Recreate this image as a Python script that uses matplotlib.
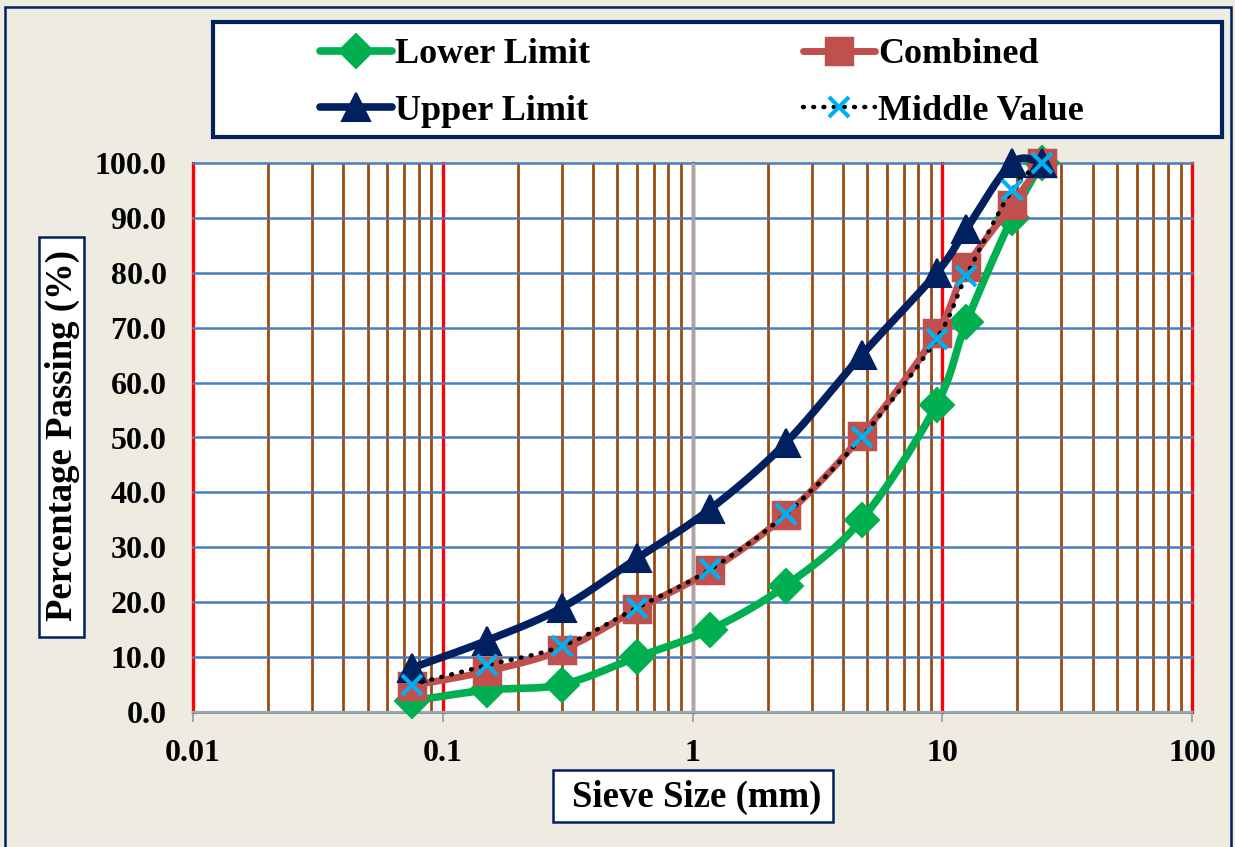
import numpy as np
import matplotlib
matplotlib.use("Agg")
import matplotlib.pyplot as plt
from matplotlib.patches import Rectangle
from matplotlib.lines import Line2D
from matplotlib.ticker import LogLocator, NullFormatter, FixedLocator

# ---------------- data ----------------
sieve_mm = [0.075, 0.15, 0.3, 0.6, 1.18, 2.36, 4.75, 9.5, 12.5, 19, 25]
lower_limit = [2, 4, 5, 10, 15, 23, 35, 56, 71, 90, 100]
upper_limit = [8, 13, 19, 28, 37, 49, 65, 80, 88, 100, 100]
combined = [4.8, 7.4, 11.3, 18.7, 25.8, 35.9, 50.3, 69, 81, 92.4, 100]
middle_value = [5, 8.5, 12, 19, 26, 36, 50, 68, 79.5, 95, 100]

y_ticks = [0, 10, 20, 30, 40, 50, 60, 70, 80, 90, 100]
y_tick_labels = ["0.0", "10.0", "20.0", "30.0", "40.0", "50.0", "60.0",
                 "70.0", "80.0", "90.0", "100.0"]
x_ticks = [0.01, 0.1, 1, 10, 100]
x_tick_labels = ["0.01", "0.1", "1", "10", "100"]

x_label = "Sieve Size (mm)"
y_label = "Percentage Passing (%)"
series_names = ["Lower Limit", "Combined", "Upper Limit", "Middle Value"]

# ---------------- style ----------------
plt.rcParams['font.family'] = ['Liberation Serif', 'DejaVu Serif']
plt.rcParams['font.weight'] = 'bold'

W_PX, H_PX = 1235, 847
DPI = 100
BG = '#EEECE1'
NAVY = '#002060'
GREEN = '#00B050'
RED = '#C0504D'
CYAN = '#00B0F0'
GRID_BLUE = '#4A7EBB'
BROWN = '#9C4A0E'
AXIS_GRAY = '#A6A6A6'

fig = plt.figure(figsize=(W_PX / DPI, H_PX / DPI), dpi=DPI, facecolor=BG)


def fx(px):
    return px / W_PX


def fy(py):
    return 1 - py / H_PX


# outer chart border
fig.patches.append(Rectangle((fx(5), fy(852)), fx(1231) - fx(5), fy(7) - fy(852),
                             transform=fig.transFigure, fill=False,
                             edgecolor=NAVY, linewidth=1.8, zorder=0))

# plot area
ax_l, ax_r, ax_t, ax_b = 193, 1192, 163, 712
ax = fig.add_axes([fx(ax_l), fy(ax_b), fx(ax_r) - fx(ax_l), fy(ax_t) - fy(ax_b)])
ax.set_facecolor('white')
ax.set_xscale('log')
ax.set_xlim(x_ticks[0], x_ticks[-1])
ax.set_ylim(y_ticks[0], y_ticks[-1])

ax.xaxis.set_major_locator(FixedLocator(x_ticks))
ax.set_xticklabels(x_tick_labels)
ax.xaxis.set_minor_locator(LogLocator(base=10, subs=np.arange(2, 10)))
ax.xaxis.set_minor_formatter(NullFormatter())
ax.set_yticks(y_ticks)
ax.set_yticklabels(y_tick_labels)

ax.set_axisbelow(True)
ax.grid(which='minor', axis='x', color=BROWN, linewidth=2.0)
ax.grid(which='major', axis='x', color='#FF0000', linewidth=2.4)
ax.grid(which='major', axis='y', color=GRID_BLUE, linewidth=1.8)
for gl in ax.xaxis.get_gridlines() + ax.yaxis.get_gridlines():
    gl.set_clip_on(False)
# vertical axis crossing at x = 1
ax.axvline(x_ticks[2], color=AXIS_GRAY, linewidth=2.4, zorder=1.5)

for s in ['top', 'right', 'left']:
    ax.spines[s].set_visible(False)
ax.spines['bottom'].set_color(AXIS_GRAY)
ax.spines['bottom'].set_linewidth(1.6)

ax.tick_params(axis='y', length=0, pad=19, labelsize=23)
ax.tick_params(axis='x', which='major', length=7.2, width=1.4, color=AXIS_GRAY,
               pad=12, labelsize=23)
ax.tick_params(axis='x', which='minor', length=0)


# smooth curve (Excel-like Catmull-Rom / Bezier in display proportions)
def smooth_curve(xs, ys, n=30):
    xs = np.asarray(xs, float)
    ys = np.asarray(ys, float)
    w = ax_r - ax_l
    h = ax_b - ax_t
    u = (np.log10(xs) - np.log10(x_ticks[0])) / 4.0 * w
    v = ys / 100.0 * h
    P = np.column_stack([u, v])
    Pext = np.vstack([P[0], P, P[-1]])
    out = [P[0]]
    t = np.linspace(0, 1, n)[1:]
    for i in range(len(P) - 1):
        p0, p1, p2, p3 = Pext[i], Pext[i + 1], Pext[i + 2], Pext[i + 3]
        c1 = p1 + (p2 - p0) / 6.0
        c2 = p2 - (p3 - p1) / 6.0
        seg = ((1 - t) ** 3)[:, None] * p1 + (3 * (1 - t) ** 2 * t)[:, None] * c1 \
            + (3 * (1 - t) * t ** 2)[:, None] * c2 + (t ** 3)[:, None] * p2
        out.extend(seg)
    out = np.array(out)
    xx = 10 ** (out[:, 0] / w * 4.0 + np.log10(x_ticks[0]))
    yy = out[:, 1] / h * 100.0
    return xx, yy


series = [
    dict(name=series_names[0], y=lower_limit, color=GREEN, lw=5.5, ls='-',
         marker='D', ms=17, mfc=GREEN, mec=GREEN, mew=1.5),
    dict(name=series_names[1], y=combined, color=RED, lw=5.0, ls='-',
         marker='s', ms=19, mfc=RED, mec=RED, mew=2.5),
    dict(name=series_names[2], y=upper_limit, color=NAVY, lw=5.5, ls='-',
         marker='^', ms=20, mfc=NAVY, mec=NAVY, mew=1.5),
    dict(name=series_names[3], y=middle_value, color='black', lw=3.2,
         ls=(0, (0.2, 2.1)), marker='x', ms=14, mfc=CYAN, mec=CYAN, mew=3.0),
]

handles = {}
z = 3
for s in series:
    xx, yy = smooth_curve(sieve_mm, s['y'])
    ln, = ax.plot(xx, yy, color=s['color'], linewidth=s['lw'], linestyle=s['ls'],
                  solid_capstyle='round', dash_capstyle='round',
                  solid_joinstyle='round', zorder=z, clip_on=False)
    ax.plot(sieve_mm, s['y'], linestyle='none', marker=s['marker'],
            markersize=s['ms'], markerfacecolor=s['mfc'],
            markeredgecolor=s['mec'], markeredgewidth=s['mew'],
            zorder=z + 0.5, clip_on=False)
    handles[s['name']] = Line2D([], [], color=s['color'], linewidth=s['lw'],
                                linestyle=s['ls'], solid_capstyle='round',
                                dash_capstyle='round',
                                marker=s['marker'], markersize=s['ms'],
                                markerfacecolor=s['mfc'],
                                markeredgecolor=s['mec'],
                                markeredgewidth=s['mew'])
    z += 1

# legend box
fig.patches.append(Rectangle((fx(213), fy(137)), fx(1222) - fx(213), fy(22) - fy(137),
                             transform=fig.transFigure, facecolor='white',
                             edgecolor=NAVY, linewidth=3.0, zorder=1))
order = [series_names[0], series_names[2], series_names[1], series_names[3]]
leg = fig.legend([handles[n] for n in order], order, ncol=2, frameon=False,
                 loc='center', bbox_to_anchor=(fx(702), fy(83)),
                 prop=dict(family=['Liberation Serif'], weight='bold', size=26),
                 handlelength=2.0, handletextpad=0.08, columnspacing=5.9,
                 labelspacing=0.64, borderpad=0, numpoints=1)
leg.set_zorder(5)

# y axis title box
fig.patches.append(Rectangle((fx(39), fy(637)), fx(84) - fx(39), fy(237) - fy(637),
                             transform=fig.transFigure, facecolor='white',
                             edgecolor=NAVY, linewidth=1.8, zorder=1))
fig.text(fx(62), fy(435), y_label, rotation=90, ha='center', va='center',
         fontsize=26.5, fontweight='bold', zorder=5)

# x axis title box
fig.patches.append(Rectangle((fx(553), fy(822)), fx(833) - fx(553), fy(770) - fy(822),
                             transform=fig.transFigure, facecolor='white',
                             edgecolor=NAVY, linewidth=1.8, zorder=1))
fig.text(fx(697), fy(797), x_label, ha='center', va='center',
         fontsize=26.5, fontweight='bold', zorder=5)

fig.savefig('out.png', dpi=DPI, facecolor=BG)
